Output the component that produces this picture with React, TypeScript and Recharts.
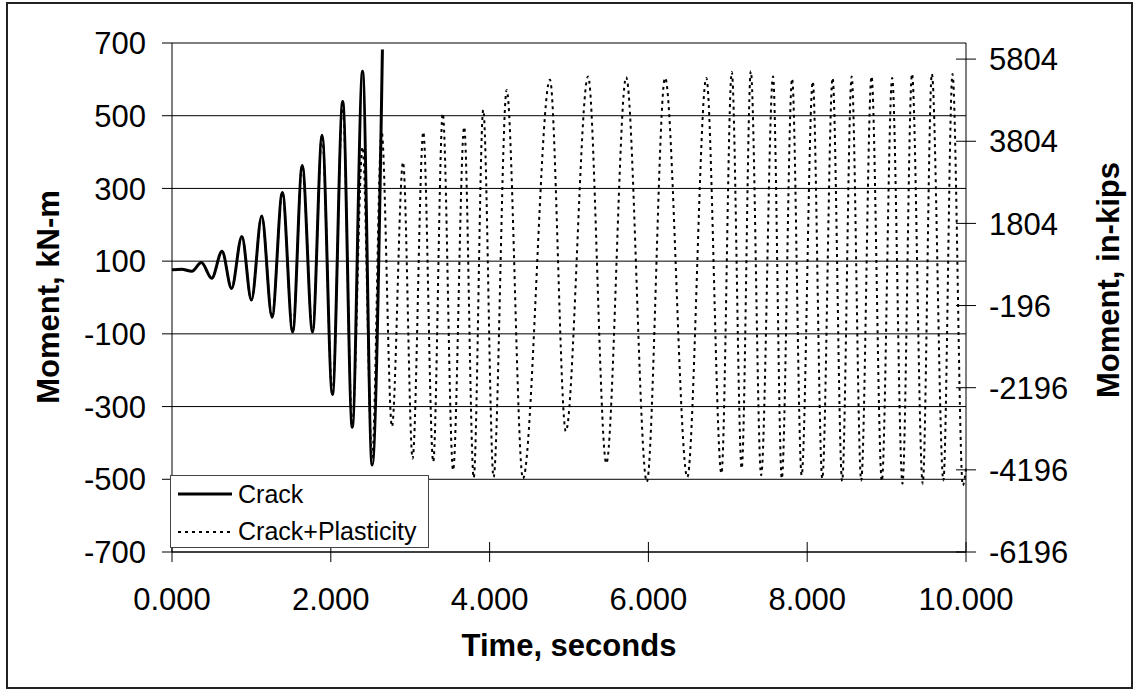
import React from 'react';
import { LineChart, Line, XAxis, YAxis, CartesianGrid } from 'recharts';

// Crack model (solid) – stops once the section fails
const crackTime = [0, 0.12, 0.25, 0.37, 0.5, 0.63, 0.75, 0.88, 1.0, 1.13, 1.26, 1.39, 1.52, 1.64, 1.77, 1.89, 2.02, 2.15, 2.27, 2.4, 2.52, 2.65];
const crackMoment = [76, 78, 72, 96, 53, 127, 25, 168, -7, 224, -54, 289, -95, 363, -95, 446, -267, 539, -357, 622, -461, 682];

// Crack + plasticity model (dotted)
const plastTime = [
  0, 0.12, 0.25, 0.37, 0.5, 0.63, 0.75, 0.88, 1.0, 1.13,
  1.26, 1.39, 1.52, 1.64, 1.77, 1.89, 2.02, 2.15, 2.27, 2.4,
  2.52, 2.64, 2.77, 2.91, 3.03, 3.165, 3.29, 3.41, 3.54, 3.68,
  3.8, 3.92, 4.05, 4.215, 4.42, 4.76, 4.96, 5.24, 5.47, 5.72,
  5.98, 6.21, 6.49, 6.73, 6.92, 7.05, 7.175, 7.29, 7.42, 7.57,
  7.68, 7.81, 7.93, 8.07, 8.19, 8.32, 8.44, 8.56, 8.68, 8.81,
  8.94, 9.07, 9.2, 9.32, 9.455, 9.57, 9.715, 9.83, 9.96, 10.0
];
const plastMoment = [
  76, 78, 72, 96, 53, 127, 25, 168, -7, 224,
  -54, 289, -95, 363, -95, 446, -267, 530, -350, 414,
  -440, 457, -355, 372, -443, 455, -452, 506, -475, 469,
  -496, 516, -494, 571, -498, 599, -368, 608, -456, 606,
  -507, 604, -494, 604, -484, 620, -470, 622, -489, 608,
  -498, 602, -489, 594, -498, 604, -505, 608, -503, 608,
  -505, 604, -512, 615, -512, 615, -503, 615, -517, -470
];

const timeTicks = [0, 2, 4, 6, 8, 10];
const kNmTicks = [-700, -500, -300, -100, 100, 300, 500, 700];
const inKipTicks = [-6196, -4196, -2196, -196, 1804, 3804, 5804];
const KNM_TO_INKIP = 8.851;

const crackData = crackTime.map((t, i) => ({ t, m: crackMoment[i] }));
const plastData = plastTime.map((t, i) => ({ t, m: plastMoment[i], mk: plastMoment[i] * KNM_TO_INKIP }));

const FONT = '"Liberation Sans", Arial, sans-serif';

const LeftTick = ({ x, y, payload }: any) => (
  <g>
    <line x1={x - 10} y1={y} x2={x} y2={y} stroke="#000" />
    <text x={x - 26} y={y} dy="0.36em" textAnchor="end" fontSize={31} fontFamily={FONT} fill="#000">
      {payload.value}
    </text>
  </g>
);

const RightTick = ({ x, y, payload }: any) => (
  <g>
    <line x1={x - 10} y1={y} x2={x + 10} y2={y} stroke="#000" />
    <text x={x + 23} y={y} dy="0.36em" textAnchor="start" fontSize={31} fontFamily={FONT} fill="#000">
      {payload.value}
    </text>
  </g>
);

const BottomTick = ({ x, y, payload }: any) => (
  <g>
    <line x1={x} y1={y - 10} x2={x} y2={y + 10} stroke="#000" />
    <text x={x} y={y + 58} textAnchor="middle" fontSize={31} fontFamily={FONT} fill="#000">
      {Number(payload.value).toFixed(3)}
    </text>
  </g>
);

const titleStyle: React.CSSProperties = {
  position: 'absolute',
  fontFamily: FONT,
  fontWeight: 700,
  fontSize: 31,
  lineHeight: 1,
  whiteSpace: 'nowrap',
  color: '#000'
};

export default function App() {
  return (
    <div style={{ position: 'absolute', left: 0, top: 0, width: 1135, height: 692, background: '#fff', fontFamily: FONT }}>
      {/* chart area border */}
      <div
        style={{
          position: 'absolute',
          left: 6,
          top: 2,
          width: 1127,
          height: 687,
          border: '2px solid #222',
          boxSizing: 'border-box'
        }}
      />

      <div style={{ position: 'absolute', left: 0, top: 0 }}>
        <LineChart width={1135} height={692} margin={{ top: 43, right: 0, bottom: 0, left: 0 }}>
          <CartesianGrid yAxisId="left" horizontal vertical={false} stroke="#000" strokeOpacity={1} />
          <XAxis
            dataKey="t"
            type="number"
            domain={[0, 10]}
            ticks={timeTicks}
            interval={0}
            height={140}
            tickSize={0}
            tickMargin={0}
            tickLine={false}
            axisLine={{ stroke: '#000' }}
            tick={<BottomTick />}
          />
          <YAxis
            yAxisId="left"
            type="number"
            domain={[-700, 700]}
            ticks={kNmTicks}
            interval={0}
            width={172}
            tickSize={0}
            tickMargin={0}
            tickLine={false}
            axisLine={{ stroke: '#000' }}
            tick={<LeftTick />}
          />
          <YAxis
            yAxisId="right"
            orientation="right"
            type="number"
            domain={[-6196, 6196]}
            allowDataOverflow
            ticks={inKipTicks}
            interval={0}
            width={169}
            tickSize={0}
            tickMargin={0}
            tickLine={false}
            axisLine={{ stroke: '#000' }}
            tick={<RightTick />}
          />
          {/* same series in in-kips, invisible: it only ties the secondary axis to data */}
          <Line
            yAxisId="right"
            data={plastData}
            dataKey="mk"
            type="monotone"
            stroke="transparent"
            strokeWidth={0}
            dot={false}
            activeDot={false}
            legendType="none"
            isAnimationActive={false}
          />
          <Line
            yAxisId="left"
            data={plastData}
            dataKey="m"
            type="monotone"
            stroke="#000"
            strokeWidth={2}
            strokeDasharray="3 4"
            dot={false}
            isAnimationActive={false}
          />
          <Line
            yAxisId="left"
            data={crackData}
            dataKey="m"
            type="monotone"
            stroke="#000"
            strokeWidth={3}
            dot={false}
            isAnimationActive={false}
          />
        </LineChart>
      </div>

      {/* axis titles */}
      <div style={{ ...titleStyle, left: 48, top: 297, transform: 'translate(-50%, -50%) rotate(-90deg)' }}>
        Moment, kN-m
      </div>
      <div style={{ ...titleStyle, left: 1108, top: 280, transform: 'translate(-50%, -50%) rotate(-90deg)' }}>
        Moment, in-kips
      </div>
      <div style={{ ...titleStyle, left: 569, top: 630, transform: 'translateX(-50%)' }}>
        Time, seconds
      </div>

      {/* legend */}
      <div
        style={{
          position: 'absolute',
          left: 170,
          top: 475,
          width: 259,
          height: 73,
          border: '1px solid #444',
          background: '#fff',
          boxSizing: 'border-box'
        }}
      >
        <svg width={257} height={71} style={{ display: 'block' }}>
          <line x1={7} y1={18} x2={61} y2={18} stroke="#000" strokeWidth={3} />
          <text x={67} y={27} fontSize={25} fontFamily={FONT} fill="#000">Crack</text>
          <line x1={7} y1={56} x2={61} y2={56} stroke="#000" strokeWidth={2} strokeDasharray="3 4" />
          <text x={67} y={64} fontSize={25} fontFamily={FONT} fill="#000">Crack+Plasticity</text>
        </svg>
      </div>
    </div>
  );
}
